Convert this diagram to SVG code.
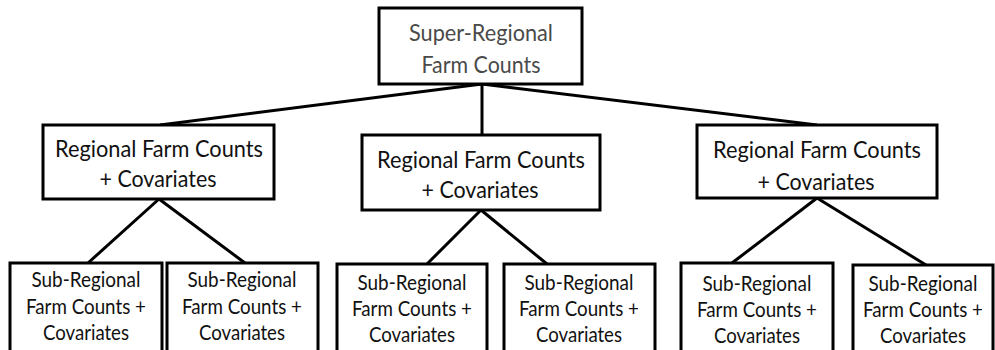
<svg xmlns="http://www.w3.org/2000/svg" width="995" height="350" viewBox="0 0 995 350">
<style>
.box{fill:#fff;stroke:#000;stroke-width:3}
.ln{stroke:#000;stroke-width:3;fill:none}
text{font-family:Lato,"Liberation Sans",sans-serif;text-anchor:middle;fill:#111}
.big{font-size:24px}
.sm{font-size:20.5px}
.grey{fill:#4a4a4a}
</style>
<rect width="995" height="350" fill="#fff"/>
<g id="connectors">
<line class="ln" x1="482" y1="84" x2="160" y2="125"/>
<line class="ln" x1="482" y1="84" x2="482" y2="135"/>
<line class="ln" x1="482" y1="84" x2="817" y2="125"/>
<line class="ln" x1="159" y1="199" x2="88" y2="263"/>
<line class="ln" x1="159" y1="199" x2="245" y2="263"/>
<line class="ln" x1="481" y1="210" x2="427" y2="264"/>
<line class="ln" x1="481" y1="210" x2="547" y2="264"/>
<line class="ln" x1="817" y1="198" x2="732" y2="263"/>
<line class="ln" x1="817" y1="198" x2="926" y2="265"/>
</g>
<g id="super">
<rect class="box" x="379" y="8" width="203" height="76"/>
<text class="big grey" x="481" y="41" textLength="144" lengthAdjust="spacingAndGlyphs">Super-Regional</text>
<text class="big grey" x="481" y="73" textLength="119" lengthAdjust="spacingAndGlyphs">Farm Counts</text>
</g>
<g id="regional1">
<rect class="box" x="43" y="125" width="231" height="74"/>
<text class="big" x="159" y="157" textLength="208" lengthAdjust="spacingAndGlyphs">Regional Farm Counts</text>
<text class="big" x="158" y="187" textLength="117" lengthAdjust="spacingAndGlyphs">+ Covariates</text>
</g>
<g id="regional2">
<rect class="box" x="362" y="135" width="238" height="75"/>
<text class="big" x="481" y="168" textLength="208" lengthAdjust="spacingAndGlyphs">Regional Farm Counts</text>
<text class="big" x="480" y="198" textLength="117" lengthAdjust="spacingAndGlyphs">+ Covariates</text>
</g>
<g id="regional3">
<rect class="box" x="697" y="125" width="240" height="73"/>
<text class="big" x="817" y="158" textLength="208" lengthAdjust="spacingAndGlyphs">Regional Farm Counts</text>
<text class="big" x="816" y="190" textLength="117" lengthAdjust="spacingAndGlyphs">+ Covariates</text>
</g>
<g id="sub1">
<rect class="box" x="10" y="263" width="152" height="92"/>
<text class="sm" x="86" y="287" textLength="109" lengthAdjust="spacingAndGlyphs">Sub-Regional</text>
<text class="sm" x="86" y="314" textLength="120" lengthAdjust="spacingAndGlyphs">Farm Counts +</text>
<text class="sm" x="86" y="340" textLength="86" lengthAdjust="spacingAndGlyphs">Covariates</text>
</g>
<g id="sub2">
<rect class="box" x="167" y="263" width="151" height="92"/>
<text class="sm" x="242" y="287" textLength="109" lengthAdjust="spacingAndGlyphs">Sub-Regional</text>
<text class="sm" x="242" y="314" textLength="120" lengthAdjust="spacingAndGlyphs">Farm Counts +</text>
<text class="sm" x="242" y="340" textLength="86" lengthAdjust="spacingAndGlyphs">Covariates</text>
</g>
<g id="sub3">
<rect class="box" x="337" y="264" width="150" height="92"/>
<text class="sm" x="412" y="290" textLength="109" lengthAdjust="spacingAndGlyphs">Sub-Regional</text>
<text class="sm" x="412" y="316" textLength="120" lengthAdjust="spacingAndGlyphs">Farm Counts +</text>
<text class="sm" x="412" y="342" textLength="86" lengthAdjust="spacingAndGlyphs">Covariates</text>
</g>
<g id="sub4">
<rect class="box" x="504" y="264" width="151" height="92"/>
<text class="sm" x="579" y="290" textLength="109" lengthAdjust="spacingAndGlyphs">Sub-Regional</text>
<text class="sm" x="579" y="316" textLength="120" lengthAdjust="spacingAndGlyphs">Farm Counts +</text>
<text class="sm" x="579" y="342" textLength="86" lengthAdjust="spacingAndGlyphs">Covariates</text>
</g>
<g id="sub5">
<rect class="box" x="681" y="263" width="152" height="92"/>
<text class="sm" x="757" y="291" textLength="109" lengthAdjust="spacingAndGlyphs">Sub-Regional</text>
<text class="sm" x="757" y="317" textLength="120" lengthAdjust="spacingAndGlyphs">Farm Counts +</text>
<text class="sm" x="757" y="343" textLength="86" lengthAdjust="spacingAndGlyphs">Covariates</text>
</g>
<g id="sub6">
<rect class="box" x="853" y="265" width="140" height="92"/>
<text class="sm" x="923" y="291" textLength="109" lengthAdjust="spacingAndGlyphs">Sub-Regional</text>
<text class="sm" x="923" y="317" textLength="120" lengthAdjust="spacingAndGlyphs">Farm Counts +</text>
<text class="sm" x="923" y="343" textLength="86" lengthAdjust="spacingAndGlyphs">Covariates</text>
</g>
</svg>
